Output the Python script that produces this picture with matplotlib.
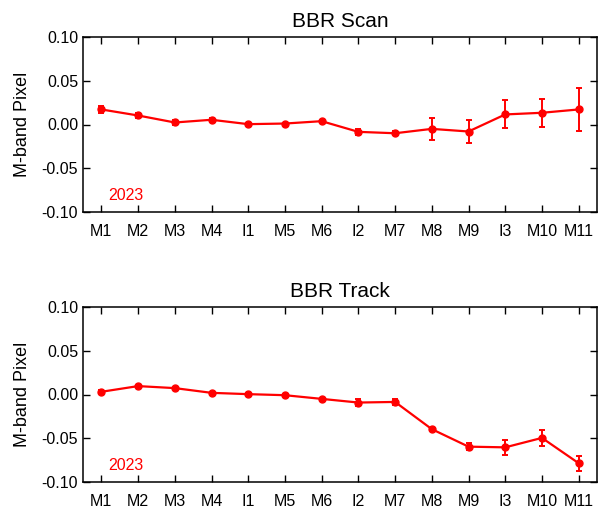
import matplotlib
matplotlib.use("Agg")
import matplotlib.pyplot as plt

bands = ["M1", "M2", "M3", "M4", "I1", "M5", "M6", "I2", "M7", "M8", "M9", "I3", "M10", "M11"]
scan_vals = [0.0172, 0.0103, 0.0023, 0.0054, 0.0004, 0.0011, 0.0038, -0.0084, -0.0100, -0.0050, -0.0080, 0.0115, 0.0134, 0.0172]
scan_err = [0.0040, 0.0032, 0.0026, 0.0015, 0.0010, 0.0010, 0.0012, 0.0036, 0.0022, 0.0125, 0.0127, 0.0160, 0.0160, 0.0250]
track_vals = [0.0031, 0.0096, 0.0073, 0.0019, 0.0004, -0.0008, -0.0050, -0.0092, -0.0085, -0.0396, -0.0596, -0.0604, -0.0496, -0.0785]
track_err = [0.0019, 0.0015, 0.0012, 0.0012, 0.0010, 0.0010, 0.0012, 0.0038, 0.0030, 0.0015, 0.0038, 0.0085, 0.0090, 0.0085]
titles = ["BBR Scan", "BBR Track"]
yticks = [-0.10, -0.05, 0.00, 0.05, 0.10]
year = "2023"

plt.rcParams['font.family'] = ['Liberation Sans', 'DejaVu Sans']

fig = plt.figure(figsize=(6.11, 5.12), dpi=100)
W, H = 611, 512
panels = [(37, 212), (307, 482)]
data = [(scan_vals, scan_err), (track_vals, track_err)]
x = list(range(1, len(bands) + 1))

for (top, bot), (vals, errs), title in zip(panels, data, titles):
    ax = fig.add_axes([83 / W, 1 - bot / H, (597 - 83) / W, (bot - top) / H])
    ax.errorbar(x, vals, yerr=errs, color='red', lw=1.6, marker='o', ms=5,
                capsize=2.5, elinewidth=1.4, capthick=1.4)
    ax.set_xlim(0.5, len(bands) + 0.5)
    ax.set_ylim(-0.10, 0.10)
    ax.set_xticks(x)
    ax.set_xticklabels(bands, fontsize=11.5)
    ax.set_yticks(yticks)
    ax.set_yticklabels([f"{v:.2f}" for v in yticks], fontsize=11.5)
    ax.tick_params(direction='in', top=True, right=True, length=5, width=1)
    ax.tick_params(axis='x', pad=9)
    ax.tick_params(axis='y', pad=3.5)
    for s in ax.spines.values():
        s.set_linewidth(1.1)
    ax.set_title(title, fontsize=15, pad=7)
    ax.set_ylabel("M-band Pixel", fontsize=13, labelpad=8)
    ax.text(0.049, 0.097, year, transform=ax.transAxes, color='red', fontsize=11.5,
            va='center', ha='left')

fig.savefig("out.png", dpi=100)
